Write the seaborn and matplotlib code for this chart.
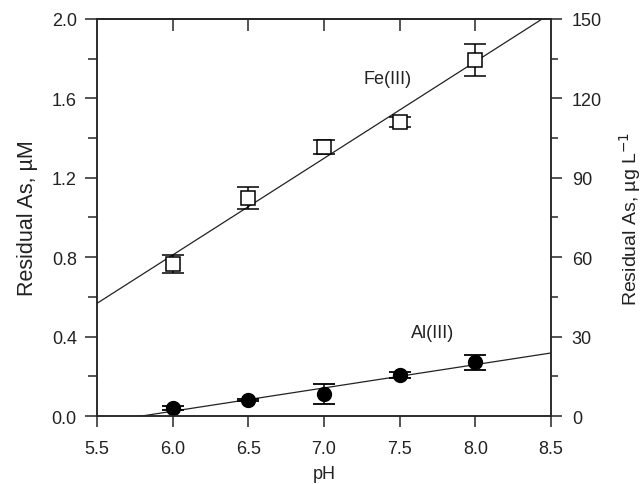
import numpy as np
import pandas as pd
import matplotlib
matplotlib.use("Agg")
import matplotlib.pyplot as plt
from matplotlib.ticker import MultipleLocator
import seaborn as sns

# data
ph = [6.0, 6.5, 7.0, 7.5, 8.0]
fe_as = [0.766, 1.098, 1.354, 1.479, 1.793]
fe_err = [0.047, 0.056, 0.035, 0.025, 0.080]
al_as = [0.039, 0.081, 0.111, 0.206, 0.270]
al_err = [0.010, 0.005, 0.050, 0.017, 0.036]

df = pd.DataFrame({"pH": ph, "Fe": fe_as, "Al": al_as})

sns.set_style("ticks")
plt.rcParams["font.family"] = ["Liberation Sans", "DejaVu Sans"]
plt.rcParams["font.size"] = 13
plt.rcParams["axes.linewidth"] = 1.1
plt.rcParams["text.color"] = "#222222"
plt.rcParams["axes.labelcolor"] = "#222222"
plt.rcParams["xtick.labelcolor"] = "#222222"
plt.rcParams["ytick.labelcolor"] = "#222222"

fs = 13

fig = plt.figure(figsize=(6.44, 4.85), dpi=100)
ax = fig.add_axes([0.1506, 0.1402, 0.705, 0.8186])
ax.set_xlim(5.5, 8.5)
ax.set_ylim(0.0, 2.0)

# fitted lines across the full x range
sns.regplot(data=df, x="pH", y="Fe", ax=ax, ci=None, scatter=False, truncate=False,
            line_kws={"color": "#222222", "lw": 0.9})
sns.regplot(data=df, x="pH", y="Al", ax=ax, ci=None, scatter=False, truncate=False,
            line_kws={"color": "#222222", "lw": 0.9})

ax.errorbar(ph, fe_as, yerr=fe_err, fmt="s", ms=9.5, mfc="white", mec="black",
            mew=1.1, ecolor="black", elinewidth=1.1, capsize=8, capthick=1.3, zorder=3)
ax.errorbar(ph, al_as, yerr=al_err, fmt="o", ms=10, mfc="black", mec="black",
            ecolor="black", elinewidth=1.1, capsize=8, capthick=1.3, zorder=3)

ax.text(7.42, 1.70, "Fe(III)", ha="center", va="center", fontsize=fs)
ax.text(7.72, 0.42, "Al(III)", ha="center", va="center", fontsize=fs)

ax.set_xlim(5.5, 8.5)
ax.set_ylim(0.0, 2.0)
ax.set_xticks([5.5, 6.0, 6.5, 7.0, 7.5, 8.0, 8.5])
ax.set_xticklabels(["5.5", "6.0", "6.5", "7.0", "7.5", "8.0", "8.5"])
ax.set_yticks([0.0, 0.4, 0.8, 1.2, 1.6, 2.0])
ax.set_yticklabels(["0.0", "0.4", "0.8", "1.2", "1.6", "2.0"])
ax.yaxis.set_minor_locator(MultipleLocator(0.2))
ax.tick_params(axis="y", which="major", direction="out", length=9, width=1.1, labelsize=fs,
               pad=5.5)
ax.tick_params(axis="y", which="minor", direction="out", length=6.5, width=1.1)
ax.tick_params(axis="x", which="major", direction="out", length=8, width=1.1, labelsize=fs,
               top=False, pad=9)
ax.set_xlabel("pH", fontsize=fs, labelpad=6)
ax.set_ylabel("Residual As, \u00b5M", fontsize=15.5, labelpad=10)

# top ticks point inward
secx = ax.secondary_xaxis("top")
secx.set_xticks([6.0, 6.5, 7.0, 7.5, 8.0])
secx.tick_params(direction="in", length=8.5, width=1.1, labeltop=False)

ax2 = ax.twinx()
ax2.set_ylim(0, 150)
ax2.set_yticks([0, 30, 60, 90, 120, 150])
ax2.yaxis.set_minor_locator(MultipleLocator(15))
ax2.tick_params(axis="y", which="major", direction="out", length=8, width=1.1, labelsize=fs,
                pad=7)
ax2.tick_params(axis="y", which="minor", direction="out", length=5, width=1.1)
ax2.set_ylabel("Residual As, \u00b5g L$^{-1}$", fontsize=14, labelpad=11)
for s in ax2.spines.values():
    s.set_linewidth(1.1)

fig.savefig("out.png", dpi=100)
